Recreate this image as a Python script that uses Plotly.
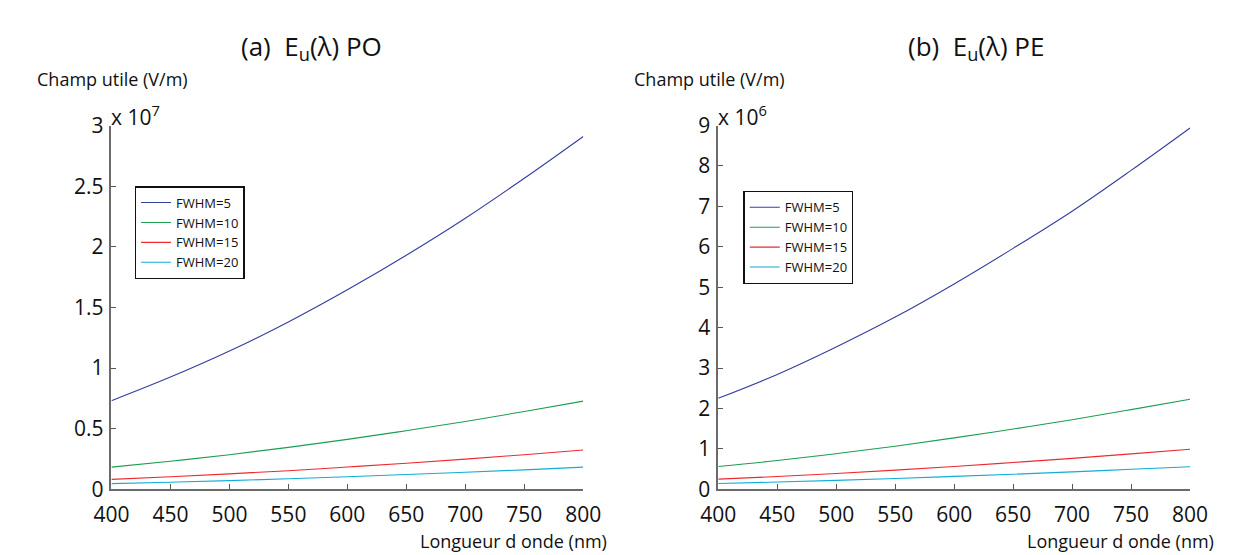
import plotly.graph_objects as go

# Wavelength (nm)
wavelength = [400, 450, 500, 550, 600, 650, 700, 750, 800]
series_names = ["FWHM=5", "FWHM=10", "FWHM=15", "FWHM=20"]

# (a) PO, units of 1e7 V/m
po_fwhm5 = [0.73, 0.925, 1.14, 1.38, 1.645, 1.93, 2.235, 2.565, 2.91]
po_fwhm10 = [0.182, 0.231, 0.285, 0.345, 0.411, 0.483, 0.559, 0.641, 0.727]
po_fwhm15 = [0.081, 0.103, 0.127, 0.153, 0.183, 0.214, 0.248, 0.285, 0.323]
po_fwhm20 = [0.046, 0.058, 0.071, 0.086, 0.103, 0.121, 0.140, 0.160, 0.182]

# (b) PE, units of 1e6 V/m
pe_fwhm5 = [2.25, 2.84, 3.52, 4.26, 5.08, 5.96, 6.88, 7.89, 8.94]
pe_fwhm10 = [0.563, 0.71, 0.88, 1.065, 1.27, 1.49, 1.72, 1.97, 2.225]
pe_fwhm15 = [0.25, 0.315, 0.39, 0.473, 0.563, 0.662, 0.764, 0.876, 0.99]
pe_fwhm20 = [0.14, 0.178, 0.22, 0.266, 0.318, 0.372, 0.43, 0.493, 0.555]

x_ticks = [400, 450, 500, 550, 600, 650, 700, 750, 800]
po_ticks = [0, 0.5, 1, 1.5, 2, 2.5, 3]
pe_ticks = [0, 1, 2, 3, 4, 5, 6, 7, 8, 9]

colors = ["#343f9e", "#1b9e50", "#ec2a30", "#12acd8"]

W, H = 1236, 555
FONT = "Open Sans"

def px_x(p):
    return p / W

def px_y(p):
    return (H - p) / H

fig = go.Figure()

po = [po_fwhm5, po_fwhm10, po_fwhm15, po_fwhm20]
pe = [pe_fwhm5, pe_fwhm10, pe_fwhm15, pe_fwhm20]

for name, ys, c in zip(series_names, po, colors):
    fig.add_trace(go.Scatter(x=wavelength, y=ys, mode="lines", name=name,
                             line=dict(color=c, width=1.1, shape="spline"),
                             xaxis="x", yaxis="y", legend="legend"))
for name, ys, c in zip(series_names, pe, colors):
    fig.add_trace(go.Scatter(x=wavelength, y=ys, mode="lines", name=name,
                             line=dict(color=c, width=1.1, shape="spline"),
                             xaxis="x2", yaxis="y2", legend="legend2"))

axis_common = dict(showgrid=False, zeroline=False, showline=True,
                   linecolor="#6b6b6b", linewidth=1.6, ticks="inside",
                   ticklen=5, tickwidth=1.2, tickcolor="#555555",
                   tickfont=dict(family=FONT, size=21, color="#111111"),
                   mirror=False)

y_dom = [px_y(491), px_y(108)]

fig.update_layout(
    width=W, height=H,
    margin=dict(l=0, r=0, t=0, b=0),
    paper_bgcolor="white", plot_bgcolor="white",
    xaxis=dict(domain=[px_x(88), px_x(574)], range=[400, 800],
               tickvals=x_ticks, anchor="y", ticklabelstandoff=6, **axis_common),
    yaxis=dict(domain=y_dom, range=[0, 3], tickvals=po_ticks,
               ticktext=[f"{v:g}" for v in po_ticks], anchor="x",
               ticklabelstandoff=2, **axis_common),
    xaxis2=dict(domain=[px_x(713), px_x(1199)], range=[400, 800],
                tickvals=x_ticks, anchor="y2", ticklabelstandoff=6, **axis_common),
    yaxis2=dict(domain=y_dom, range=[0, 9], tickvals=pe_ticks, anchor="x2",
                ticklabelstandoff=2, **axis_common),
    legend=dict(x=px_x(112), y=px_y(172), xanchor="left", yanchor="top",
                bordercolor="#111111", borderwidth=1.3, bgcolor="white",
                font=dict(family=FONT, size=13, color="#111111"),
                tracegroupgap=0, itemwidth=30),
    legend2=dict(x=px_x(739), y=px_y(177), xanchor="left", yanchor="top",
                 bordercolor="#111111", borderwidth=1.3, bgcolor="white",
                 font=dict(family=FONT, size=13, color="#111111"),
                 tracegroupgap=0, itemwidth=30),
    showlegend=True,
)

def ann(text, x, y, size, xanchor="center", yanchor="middle"):
    fig.add_annotation(text=text, x=px_x(x), y=px_y(y), xref="paper", yref="paper",
                       showarrow=False, xanchor=xanchor, yanchor=yanchor,
                       font=dict(family=FONT, size=size, color="#111111"))

ann("(a)  E<sub>u</sub>(λ) PO", 294, 25, 26)
ann("(b)  E<sub>u</sub>(λ) PE", 978, 25, 26)
ann("Champ utile (V/m)", 9, 59, 18, xanchor="left")
ann("Champ utile (V/m)", 624, 59, 18, xanchor="left")
ann("x 10<sup>7</sup>", 86, 97, 21, xanchor="left")
ann("x 10<sup>6</sup>", 711, 97, 21, xanchor="left")
ann("Longueur d onde (nm)", 601, 545, 18, xanchor="right")
ann("Longueur d onde (nm)", 1226, 545, 18, xanchor="right")

fig.write_html("out.html")
